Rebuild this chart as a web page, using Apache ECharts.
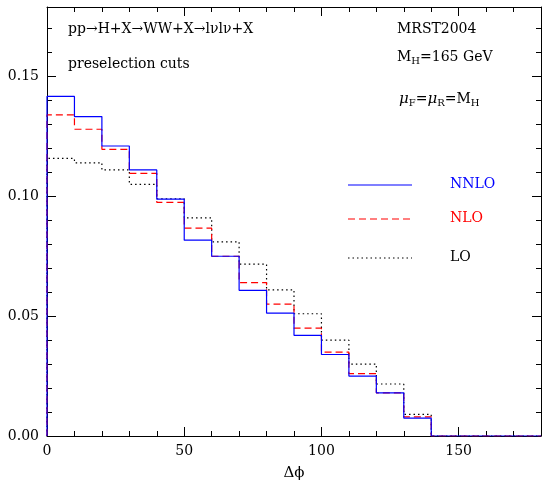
<!DOCTYPE html>
<html>
<head>
<meta charset="utf-8">
<script src="https://cdn.jsdelivr.net/npm/echarts@6/dist/echarts.min.js"></script>
<style>* {margin:0;padding:0;} #main {width:545px;height:489px;}</style>
</head>
<body>
<div id="main"></div>
<script>
var binEdges = [0, 10, 20, 30, 40, 50, 60, 70, 80, 90, 100, 110, 120, 130, 140];
var nnlo = [0.1417, 0.1333, 0.121, 0.111, 0.0988, 0.0817, 0.075, 0.0608, 0.0513, 0.042, 0.034, 0.025, 0.018, 0.0075];
var nlo = [0.134, 0.128, 0.1196, 0.1096, 0.0975, 0.0867, 0.075, 0.064, 0.055, 0.045, 0.035, 0.026, 0.018, 0.008];
var lo = [0.1158, 0.114, 0.111, 0.105, 0.099, 0.091, 0.081, 0.0717, 0.061, 0.051, 0.040, 0.030, 0.0217, 0.009];

function hist(vals) {
    var d = [[0, 0]];
    for (var i = 0; i < vals.length; i++) d.push([binEdges[i], vals[i]]);
    d.push([140, 0], [180, 0]);
    return d;
}

var font = 'DejaVu Serif';
var myChart = echarts.init(document.getElementById('main'));
var axisCommon = {
    axisLine: {onZero: false, lineStyle: {color: '#000', width: 1}},
    axisTick: {inside: true, length: 9, lineStyle: {color: '#000'}},
    minorTick: {show: true, splitNumber: 5, length: 5, lineStyle: {color: '#000'}},
    splitLine: {show: false}
};
function mk(base, extra) { return Object.assign({}, base, extra); }

var option = {
    animation: false,
    grid: {left: 47, right: 4, top: 7, bottom: 53},
    xAxis: [
        mk(axisCommon, {type: 'value', min: 0, max: 180, interval: 50, name: 'Δϕ', nameLocation: 'middle', nameGap: 30,
            nameTextStyle: {fontFamily: font, fontSize: 15, color: '#000'},
            axisLabel: {fontFamily: font, fontSize: 14, color: '#000', showMaxLabel: false}}),
        mk(axisCommon, {type: 'value', position: 'top', min: 0, max: 180, interval: 50, axisLabel: {show: false}})
    ],
    yAxis: [
        mk(axisCommon, {type: 'value', min: 0, max: 0.179, interval: 0.05,
            axisLabel: {fontFamily: font, fontSize: 14, color: '#000', showMaxLabel: false,
                formatter: function (v) { return v.toFixed(2); }}}),
        mk(axisCommon, {type: 'value', position: 'right', min: 0, max: 0.179, interval: 0.05, axisLabel: {show: false}})
    ],
    series: [
        {type: 'line', step: 'end', symbol: 'none', data: hist(lo), lineStyle: {color: '#000', width: 1.2, type: [1.5, 3]}},
        {type: 'line', step: 'end', symbol: 'none', data: hist(nlo), lineStyle: {color: '#ff0000', width: 1.2, type: [7, 4]}},
        {type: 'line', step: 'end', symbol: 'none', data: hist(nnlo), lineStyle: {color: '#0000ff', width: 1.2}}
    ],
    graphic: [
        {type: 'text', left: 68, top: 22, style: {text: 'pp→H+X→WW+X→lνlν+X', font: '14px ' + font, fill: '#000'}},
        {type: 'text', left: 68, top: 57, style: {text: 'preselection cuts', font: '14px ' + font, fill: '#000'}},
        {type: 'text', left: 397, top: 22, style: {text: 'MRST2004', font: '14px ' + font, fill: '#000'}},
        {type: 'text', left: 397, top: 50, style: {text: '{a|M}{s|H}{a|=165 GeV}',
            rich: {a: {fontFamily: font, fontSize: 14, fill: '#000'}, s: {fontFamily: font, fontSize: 10, verticalAlign: 'bottom', padding: [8, 0, 0, 0]}}}},
        {type: 'text', left: 399, top: 92, style: {text: '{i|μ}{s|F}{a|=}{i|μ}{s|R}{a|=M}{s|H}',
            rich: {a: {fontFamily: font, fontSize: 14}, i: {fontFamily: font, fontSize: 15, fontStyle: 'italic'}, s: {fontFamily: font, fontSize: 10, padding: [8, 0, 0, 0]}}}},
        {type: 'line', shape: {x1: 348, y1: 185, x2: 412, y2: 185}, style: {stroke: '#0000ff', lineWidth: 1.2}},
        {type: 'text', left: 450, top: 177, style: {text: 'NNLO', font: '14px ' + font, fill: '#0000ff'}},
        {type: 'line', shape: {x1: 348, y1: 219, x2: 412, y2: 219}, style: {stroke: '#ff0000', lineWidth: 1.2, lineDash: [7, 4]}},
        {type: 'text', left: 450, top: 211, style: {text: 'NLO', font: '14px ' + font, fill: '#ff0000'}},
        {type: 'line', shape: {x1: 348, y1: 258, x2: 412, y2: 258}, style: {stroke: '#000', lineWidth: 1.2, lineDash: [1.5, 3]}},
        {type: 'text', left: 450, top: 250, style: {text: 'LO', font: '14px ' + font, fill: '#000'}}
    ]
};
myChart.setOption(option);
</script>
</body>
</html>
